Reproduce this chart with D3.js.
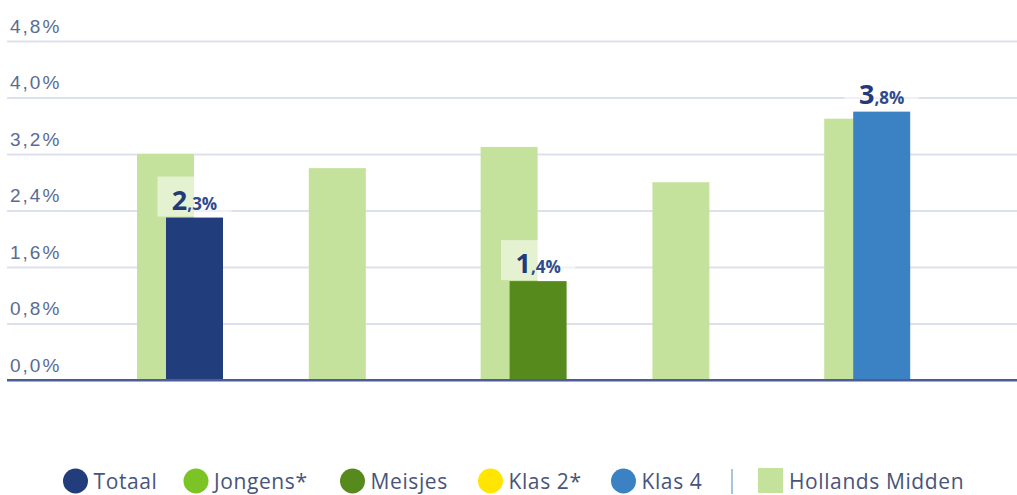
<!DOCTYPE html>
<html>
<head>
<meta charset="utf-8">
<script src="https://cdn.jsdelivr.net/npm/d3@7"></script>
<style>
  body { margin: 0; background: #fff; }
  svg { display: block; font-family: "Open Sans", sans-serif; }
</style>
</head>
<body>
<svg id="chart"></svg>
<script>
// groups along the x axis
var categories = ["Totaal", "Jongens*", "Meisjes", "Klas 2*", "Klas 4"]
// regional value (Hollands Midden), percent
var hmValues = [3.2, 3.0, 3.3, 2.8, 3.7]
// own value, null where no bar is shown
var ownValues = [2.3, null, 1.4, null, 3.8]
var yTicks = [0, 0.8, 1.6, 2.4, 3.2, 4.0, 4.8]
var legendLabels = ["Totaal", "Jongens*", "Meisjes", "Klas 2*", "Klas 4"]
var hmLabel = "Hollands Midden"

var colors = {
  "Totaal": "#223d7b",
  "Jongens*": "#7cc425",
  "Meisjes": "#568a1c",
  "Klas 2*": "#ffe500",
  "Klas 4": "#3b82c4"
}
var hmColor = "#c5e29c"

var screen = { width: 1017, height: 495 }
var margin = { left: 7, top: 41, bottom: 115 }
var baseY = screen.height - margin.bottom

var svg = d3.select("#chart")
  .attr("width", screen.width)
  .attr("height", screen.height)

var yScale = d3.scaleLinear()
  .domain([0, 4.8])
  .range([baseY, margin.top])

var xScale = d3.scaleBand()
  .domain(categories)
  .range([94, 953])

var barWidth = 57
var fmt = function(v){ return v.toFixed(1).replace(".", ",") + "%" }

// gridlines + tick labels
var yAxis = d3.axisLeft(yScale)
  .tickValues(yTicks)
  .tickSize(-(screen.width - margin.left))
  .tickFormat(fmt)

var axisG = svg.append("g")
  .attr("transform", "translate(" + margin.left + ",0)")
  .call(yAxis)
axisG.select(".domain").remove()
axisG.selectAll(".tick line")
  .attr("stroke", "#dde1ee")
  .attr("stroke-width", 2)
axisG.selectAll(".tick text")
  .attr("x", 3)
  .attr("dy", -9)
  .attr("text-anchor", "start")
  .attr("fill", "#5a6b93")
  .style("font-size", "19px")
  .style("letter-spacing", "2px")
axisG.selectAll(".tick").filter(function(d){ return d === 0 }).select("line")
  .attr("stroke", "#4b5c96")

// regional bars
svg.selectAll(".hm")
  .data(categories)
  .enter()
  .append("rect")
  .attr("class", "hm")
  .attr("x", function(d){ return xScale(d) + 43 })
  .attr("y", function(d, i){ return yScale(hmValues[i]) })
  .attr("width", barWidth)
  .attr("height", function(d, i){ return baseY - yScale(hmValues[i]) })
  .attr("fill", hmColor)

var own = categories.map(function(c, i){ return { cat: c, value: ownValues[i] } })
  .filter(function(d){ return d.value !== null })

// label backgrounds
svg.selectAll(".lblbg")
  .data(own)
  .enter()
  .append("rect")
  .attr("x", function(d){ return xScale(d.cat) + 72 + barWidth / 2 - 37 })
  .attr("y", function(d){ return yScale(d.value) - 41 })
  .attr("width", 74)
  .attr("height", 40)
  .attr("fill", "#fff")
  .attr("opacity", 0.55)

svg.selectAll(".own")
  .data(own)
  .enter()
  .append("rect")
  .attr("class", "own")
  .attr("x", function(d){ return xScale(d.cat) + 72 })
  .attr("y", function(d){ return yScale(d.value) })
  .attr("width", barWidth)
  .attr("height", function(d){ return baseY - yScale(d.value) })
  .attr("fill", function(d){ return colors[d.cat] })

// baseline on top
svg.append("line")
  .attr("x1", margin.left).attr("x2", screen.width)
  .attr("y1", baseY).attr("y2", baseY)
  .attr("stroke", "#4b5c96").attr("stroke-width", 2)

var labels = svg.selectAll(".val")
  .data(own)
  .enter()
  .append("text")
  .attr("x", function(d){ return xScale(d.cat) + 72 + barWidth / 2 })
  .attr("y", function(d){ return yScale(d.value) - 8 })
  .attr("text-anchor", "middle")
  .attr("font-weight", "bold")
  .attr("fill", "#24397a")
labels.append("tspan")
  .style("font-size", "27px")
  .text(function(d){ return fmt(d.value).split(",")[0] })
labels.append("tspan")
  .style("font-size", "17px")
  .attr("fill", "#2e4a8c")
  .text(function(d){ return "," + fmt(d.value).split(",")[1] })

// legend
var legendX = [75.5, 196, 352.5, 490.5, 623.5]
var legend = svg.append("g")
legend.selectAll("circle")
  .data(legendLabels)
  .enter()
  .append("circle")
  .attr("cx", function(d, i){ return legendX[i] })
  .attr("cy", 481)
  .attr("r", 12.5)
  .attr("fill", function(d){ return colors[d] })
legend.selectAll("text.lg")
  .data(legendLabels)
  .enter()
  .append("text")
  .attr("class", "lg")
  .attr("x", function(d, i){ return legendX[i] + 18 })
  .attr("y", 489)
  .attr("fill", "#48547a")
  .style("font-size", "21px")
  .style("letter-spacing", "0.6px")
  .text(function(d){ return d })

legend.append("line")
  .attr("x1", 732).attr("x2", 732)
  .attr("y1", 469).attr("y2", 494)
  .attr("stroke", "#a8c3e0").attr("stroke-width", 2)
legend.append("rect")
  .attr("x", 758).attr("y", 468)
  .attr("width", 25).attr("height", 25)
  .attr("fill", hmColor)
legend.append("text")
  .attr("x", 789)
  .attr("y", 489)
  .attr("fill", "#48547a")
  .style("font-size", "21px")
  .style("letter-spacing", "0.6px")
  .text(hmLabel)
</script>
</body>
</html>
